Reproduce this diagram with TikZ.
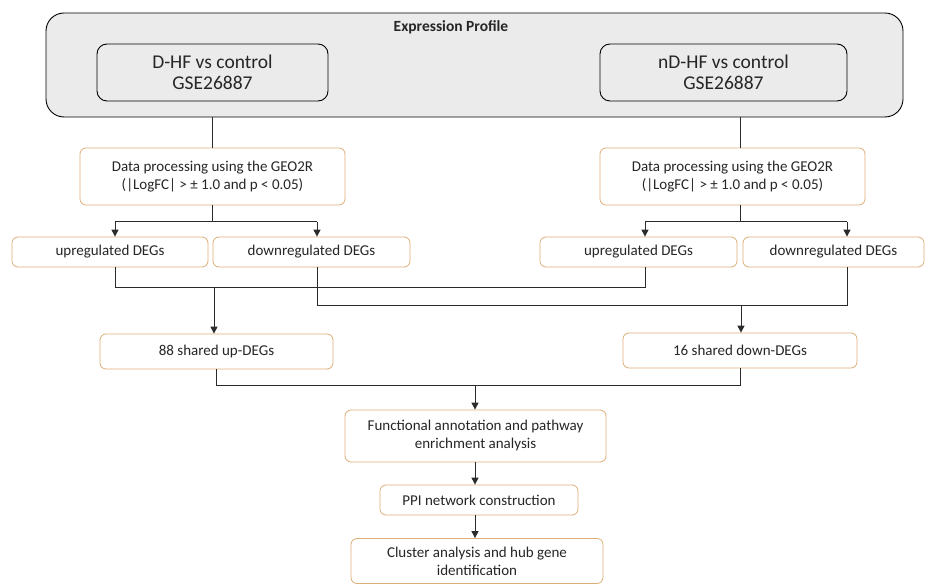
\documentclass[tikz,border=0pt]{standalone}
\usepackage{fontspec}
\setmainfont{Carlito}
\usetikzlibrary{arrows.meta,calc}
\definecolor{boxor}{HTML}{DDAE78}
\definecolor{grayfill}{HTML}{EBEBEB}
\definecolor{ln}{HTML}{2B2B2B}
\definecolor{txt}{HTML}{262626}
\begin{document}
\begin{tikzpicture}[x=1pt,y=-1pt,
  orbox/.style={draw=boxor, line width=0.8pt, fill=white, rounded corners=6pt, inner sep=0pt, align=center, text=txt, font=\fontsize{15}{18}\selectfont},
  topbox/.style={draw=black, line width=0.9pt, fill=grayfill, rounded corners=10pt, inner sep=0pt, align=center, text=txt, font=\fontsize{19.5}{21}\selectfont},
  outerbox/.style={draw=black, line width=0.9pt, fill=grayfill, rounded corners=18pt, inner sep=0pt},
  conn/.style={draw=ln, line width=1pt},
  arr/.style={conn, -{Triangle[length=7pt,width=7pt]}}]
\useasboundingbox (0,0) rectangle (927,585);
\node[outerbox, minimum width=857pt, minimum height=104pt] (outer) at (474.5,65) {};
\node[font=\bfseries\fontsize{15.5}{17}\selectfont, text=txt] (title) at (451,27) {Expression Profile};
\node[topbox, minimum width=231pt, minimum height=57pt] (dhf) at (212.5,72.5) {D-HF vs control\\GSE26887};
\node[topbox, minimum width=247pt, minimum height=57pt] (ndhf) at (723.5,72.5) {nD-HF vs control\\GSE26887};
\node[orbox, minimum width=265pt, minimum height=57pt] (dp1) at (212.5,176.5) {Data processing using the GEO2R\\(|LogFC| > ± 1.0 and p < 0.05)};
\node[orbox, minimum width=265pt, minimum height=57pt] (dp2) at (732.5,176.5) {Data processing using the GEO2R\\(|LogFC| > ± 1.0 and p < 0.05)};
\node[orbox, minimum width=196pt, minimum height=30pt] (up1) at (110,252) {upregulated DEGs};
\node[orbox, minimum width=197pt, minimum height=30pt] (dn1) at (311.5,252) {downregulated DEGs};
\node[orbox, minimum width=197pt, minimum height=30pt] (up2) at (638.5,252) {upregulated DEGs};
\node[orbox, minimum width=181pt, minimum height=30pt] (dn2) at (833.5,252) {downregulated DEGs};
\node[orbox, minimum width=233pt, minimum height=35pt] (s88) at (216.5,351.5) {88 shared up-DEGs};
\node[orbox, minimum width=234pt, minimum height=35pt] (s16) at (740,350.5) {16 shared down-DEGs};
\node[orbox, minimum width=261pt, minimum height=52pt] (fa) at (475.5,436) {Functional annotation and pathway\\enrichment analysis};
\node[orbox, minimum width=198pt, minimum height=30pt] (ppi) at (479,500) {PPI network construction};
\node[orbox, minimum width=252pt, minimum height=45pt] (cl) at (477,561) {Cluster analysis and hub gene\\identification};
\coordinate (xr) at (740,0);
\coordinate (xa1) at (115,0);
\coordinate (xa2) at (317,0);
\coordinate (xa3) at (645,0);
\coordinate (xa4) at (847,0);
\coordinate (xs1) at (214,0);
\coordinate (xs2) at (741,0);
\coordinate (xf) at (475,0);
\coordinate (yj1) at (0,222);
\coordinate (yj2) at (0,288);
\coordinate (yj3) at (0,306);
\coordinate (yj4) at (0,386);
\draw[conn] (dp1.north |- outer.south) -- (dp1.north);
\draw[conn] (xr |- outer.south) -- (xr |- dp2.north);
\draw[conn] (dp1.south) -- (dp1.south |- yj1);
\draw[conn] (xa1 |- yj1) -- (xa2 |- yj1);
\draw[arr] (xa1 |- yj1) -- (xa1 |- up1.north);
\draw[arr] (xa2 |- yj1) -- (xa2 |- dn1.north);
\draw[conn] (xr |- dp2.south) -- (xr |- yj1);
\draw[conn] (xa3 |- yj1) -- (xa4 |- yj1);
\draw[arr] (xa3 |- yj1) -- (xa3 |- up2.north);
\draw[arr] (xa4 |- yj1) -- (xa4 |- dn2.north);
\draw[conn] (xa1 |- up1.south) |- (xa3 |- yj2) -- (xa3 |- up2.south);
\draw[arr] (xs1 |- yj2) -- (xs1 |- s88.north);
\draw[conn] (xa2 |- dn1.south) |- (xa4 |- yj3) -- (xa4 |- dn2.south);
\draw[arr] (xs2 |- yj3) -- (xs2 |- s16.north);
\draw[conn] (s88.south) |- (s16.south |- yj4) -- (s16.south);
\draw[arr] (xf |- yj4) -- (xf |- fa.north);
\draw[arr] (xf |- fa.south) -- (xf |- ppi.north);
\draw[arr] (xf |- ppi.south) -- (xf |- cl.north);
\end{tikzpicture}
\end{document}
